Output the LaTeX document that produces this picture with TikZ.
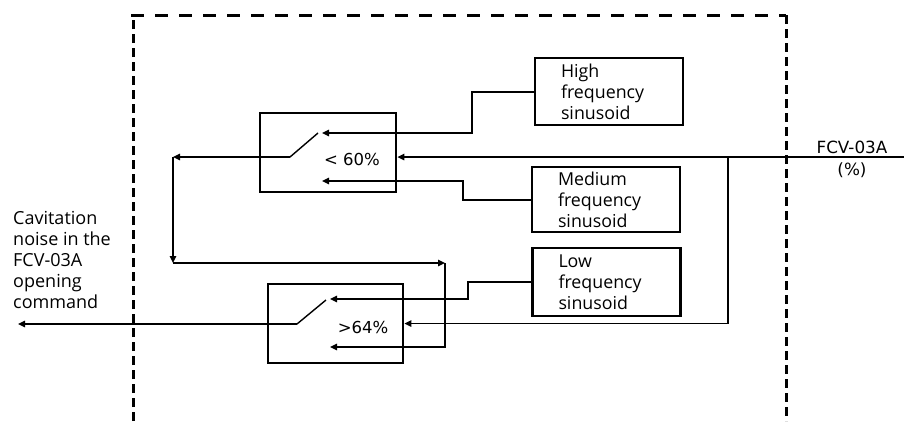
\documentclass[tikz,border=0pt]{standalone}
\usepackage{fontspec}
\setmainfont{Open Sans}
\newfontfamily\dvs{DejaVu Sans}
\usetikzlibrary{arrows.meta}
\tikzset{
  conn/.style={line width=1.4pt},
  arr/.style={conn,-{Triangle[length=7pt,width=6.5pt]}},
  swbox/.style={draw,line width=2.8pt,minimum width=136pt,minimum height=79pt,inner sep=0pt},
  srcbox/.style={draw,line width=2.6pt,text width=96pt,inner xsep=26pt,inner ysep=0pt,
    align=left,font=\fontsize{17.8}{21}\selectfont},
  pct/.style={font=\dvs\fontsize{16.5}{18}\selectfont,inner sep=0pt},
  frame/.style={line width=3pt}
}
\begin{document}
\begin{tikzpicture}[x=1pt,y=-1pt]
\useasboundingbox (0,0) rectangle (904,421);
% dashed frame
\draw[frame,dash pattern=on 9pt off 5pt] (133,421) -- (133,15);
\draw[frame,dash pattern=on 13pt off 11pt] (131,15) -- (786,15);
\draw[frame,dash pattern=on 9pt off 5pt] (786,15) -- (786,421);
% switch boxes
\node[swbox] (sw1) at (328,152.5) {};
\node[swbox,minimum width=135pt] (sw2) at (335.5,323.5) {};
\node[pct] (t1) at (352,159) {< 60\%};
\node[pct] (t2) at (363,327) {>64\%};
% source boxes
\node[srcbox,minimum height=67pt] (hi) at (609,91.5) {High\\frequency\\sinusoid};
\node[srcbox,minimum height=65pt] (med) at (606,199.5) {Medium\\frequency\\sinusoid};
\node[srcbox,minimum height=68pt] (low) at (606.5,282) {Low\\frequency\\sinusoid};
% labels
\node[font=\dvs\fontsize{16.8}{22}\selectfont,align=center,inner sep=0pt] (fcv) at (852,159) {FCV-03A\\(\%)};
\node[font=\fontsize{18}{21}\selectfont,align=left,anchor=west,inner sep=0pt] (out) at (13,260)
  {Cavitation\\noise in the\\FCV-03A\\opening\\command};
% coordinates
\coordinate (in) at (904,157);
\coordinate (br) at (728,157);
\coordinate (p1) at (290,157);
\coordinate (c1) at (318,133);
\coordinate (k1) at (322,133);
\coordinate (k2) at (322,181);
\coordinate (j1) at (173,157);
\coordinate (j2) at (173,263);
\coordinate (j3) at (445,263);
\coordinate (p2) at (297,324);
\coordinate (c2) at (326,300);
\coordinate (k3) at (330,299);
\coordinate (k4) at (330,347);
\coordinate (o2) at (18,324);
% switch blades
\draw[conn] (c1) -- (p1);
\draw[conn] (c2) -- (p2);
% input
\draw[arr] (in) -- (sw1.east |- in);
\draw[arr] (br) -- (br |- sw2.east) -- (sw2.east);
% sources
\draw[arr] (hi.west |- 0,92) -| (472,133) -- (k1);
\draw[arr] (med.west |- 0,200) -| (463,181) -- (k2);
\draw[arr] (low.west) -| (468,299) -- (k3);
% output routing
\draw[arr] (p1) -- (j1);
\draw[arr] (j1) -- (j2);
\draw[arr] (j2) -- (j3);
\draw[arr] (j3) |- (k4);
\draw[arr] (p2) -- (o2);
\end{tikzpicture}
\end{document}
